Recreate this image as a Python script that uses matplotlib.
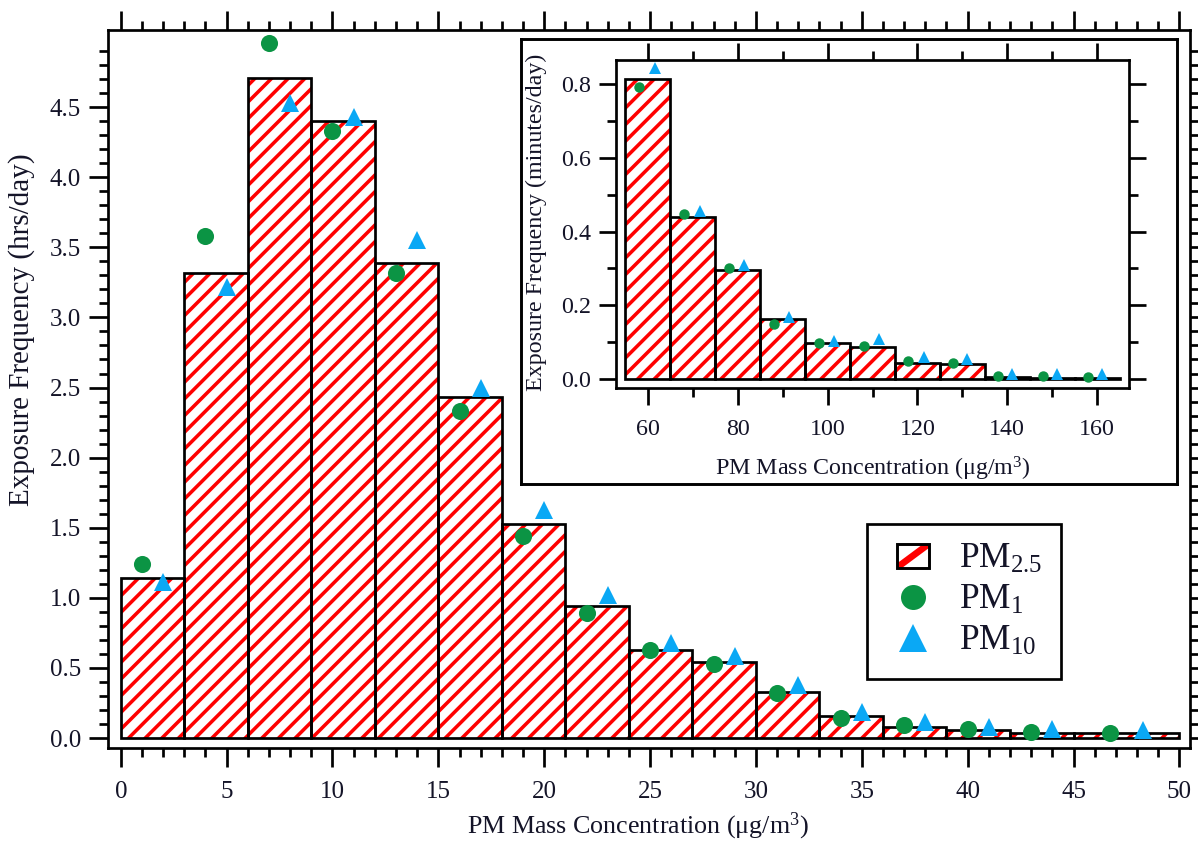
import matplotlib
matplotlib.use("Agg")
import matplotlib.pyplot as plt
import numpy as np
from matplotlib.patches import Patch, Rectangle
from matplotlib.lines import Line2D
from matplotlib.legend_handler import HandlerBase

# --- Global Style Settings ---
plt.rcParams['font.family'] = ['Liberation Serif', 'DejaVu Serif']
plt.rcParams['mathtext.default'] = 'regular'
plt.rcParams['hatch.linewidth'] = 1.7

TEXT_COLOR = '#141428'
RED = '#ff0000'
GREEN = '#0b9444'
BLUE = '#0aa8f5'

# --- Main panel data (hrs/day) ---
pm25_edges = [0, 3, 6, 9, 12, 15, 18, 21, 24, 27, 30, 33, 36, 39, 42, 45, 48, 50]
pm25_hours = [1.14, 3.32, 4.71, 4.40, 3.39, 2.43, 1.53, 0.94, 0.63, 0.54,
              0.33, 0.155, 0.078, 0.055, 0.035, 0.033, 0.033]

pm1_x = [1, 4, 7, 10, 13, 16, 19, 22, 25, 28, 31, 34, 37, 40, 43, 46.7]
pm1_hours = [1.24, 3.58, 4.96, 4.33, 3.32, 2.33, 1.44, 0.89, 0.63, 0.525,
             0.32, 0.145, 0.09, 0.067, 0.045, 0.036]

pm10_x = [2, 5, 8, 11, 14, 17, 20, 23, 26, 29, 32, 35, 38, 41, 44, 48.3]
pm10_hours = [1.11, 3.22, 4.53, 4.43, 3.55, 2.50, 1.63, 1.02, 0.68, 0.583,
              0.376, 0.186, 0.114, 0.076, 0.064, 0.060]

# --- Inset data (minutes/day) ---
inset_edges = [55, 65, 75, 85, 95, 105, 115, 125, 135, 145, 155, 165]
inset_pm25 = [0.815, 0.44, 0.295, 0.162, 0.096, 0.087, 0.0435, 0.040,
              0.005, 0.003, 0.003]

inset_pm1_x = [58, 68, 78, 88, 98, 108, 118, 128, 138, 148, 158]
inset_pm1 = [0.792, 0.448, 0.300, 0.148, 0.096, 0.090, 0.048, 0.042,
             0.007, 0.007, 0.005]

inset_pm10_x = [61.5, 71.5, 81.5, 91.5, 101.5, 111.5, 121.5, 131, 141, 151, 161]
inset_pm10 = [0.843, 0.456, 0.309, 0.168, 0.103, 0.108, 0.058, 0.054,
              0.013, 0.013, 0.012]


def hatched_bars(ax, edges, heights, lw):
    left = np.array(edges[:-1], dtype=float)
    widths = np.diff(edges)
    ax.bar(left, heights, width=widths, align='edge', color='white',
           edgecolor=RED, linewidth=0, hatch='///', zorder=2)
    ax.bar(left, heights, width=widths, align='edge', fill=False,
           edgecolor='black', linewidth=lw, zorder=3)


def style_frame(ax, lw=1.2):
    for sp in ax.spines.values():
        sp.set_linewidth(lw)
        sp.set_color('black')


class HatchSwatch(HandlerBase):
    """Legend key: white box with a single red diagonal stripe."""

    def create_artists(self, legend, orig_handle, xdescent, ydescent,
                       width, height, fontsize, trans):
        x0, y0 = -xdescent, -ydescent
        fill = Rectangle((x0, y0), width, height, facecolor='white',
                         edgecolor='none', transform=trans)
        stripe = Line2D([x0, x0 + width], [y0, y0 + height], color=RED,
                        lw=3.2, solid_capstyle='butt', transform=trans)
        stripe.set_clip_path(fill)
        edge = Rectangle((x0, y0), width, height, fill=False,
                         edgecolor='black', lw=1.4, transform=trans)
        return [fill, stripe, edge]


fig = plt.figure(figsize=(1198 / 150, 843 / 150), dpi=150)

# 1. Main panel
ax = fig.add_axes([0.0902, 0.1127, 0.9031, 0.8517])
hatched_bars(ax, pm25_edges, pm25_hours, 1.3)
ax.plot(pm1_x, pm1_hours, 'o', color=GREEN, markersize=8.2, mec='none', zorder=4)
ax.plot(pm10_x, pm10_hours, '^', color=BLUE, markersize=8.2, mec='none', zorder=4)

ax.set_xlim(-0.6, 50.5)
ax.set_ylim(-0.071, 5.05)
ax.set_xticks(np.arange(0, 51, 5))
ax.set_xticks(np.arange(0, 51, 1), minor=True)
ax.set_yticks(np.arange(0, 4.51, 0.5))
ax.set_yticklabels([f'{v:.1f}' for v in np.arange(0, 4.51, 0.5)])
ax.set_yticks(np.arange(0, 4.95, 0.1), minor=True)
ax.tick_params(which='both', direction='out', top=True, right=True,
               width=1.3, labelsize=12, labelcolor=TEXT_COLOR)
ax.tick_params(which='major', length=9, pad=4)
ax.tick_params(axis='x', which='major', pad=7)
ax.tick_params(which='minor', length=4.5)
style_frame(ax, 1.3)

ax.set_xlabel('PM Mass Concentration (μg/m$^{3}$)', fontsize=12.5, color=TEXT_COLOR)
ax.set_ylabel('Exposure Frequency (hrs/day)', fontsize=14, color=TEXT_COLOR)
ax.xaxis.set_label_coords(0.49, -0.087)
ax.yaxis.set_label_coords(-0.0675, 0.582)

# 2. Legend (frame drawn separately so the keys can sit where they do)
fig.add_artist(Rectangle((867 / 1198, 1 - 679 / 843), 194 / 1198, 155 / 843,
                         transform=fig.transFigure, facecolor='white',
                         edgecolor='black', lw=1.3, zorder=5))
leg_handles = [
    Patch(facecolor='white', edgecolor='black'),
    Line2D([], [], marker='o', ls='none', color=GREEN, mec='none', markersize=12),
    Line2D([], [], marker='^', ls='none', color=BLUE, mec='none', markersize=13),
]
leg_labels = ['PM$_{2.5}$', 'PM$_{1}$', 'PM$_{10}$']
leg = fig.legend(leg_handles, leg_labels, loc='center left',
                 bbox_to_anchor=(897 / 1198, 1 - 600.5 / 843),
                 handler_map={Patch: HatchSwatch()},
                 fontsize=17, frameon=False, handlelength=0.9,
                 handleheight=0.65, handletextpad=0.85, labelspacing=0.22,
                 borderpad=0, borderaxespad=0)
leg.set_zorder(6)
for t in leg.get_texts():
    t.set_color(TEXT_COLOR)

# 3. Inset box and inset panel
box = fig.add_axes([0.4349, 0.4259, 0.5476, 0.5278])
box.set_xticks([])
box.set_yticks([])
box.set_facecolor('white')
style_frame(box, 1.4)

ins = fig.add_axes([0.5142, 0.5397, 0.4282, 0.3891])
hatched_bars(ins, inset_edges, inset_pm25, 1.3)
ins.plot(inset_pm1_x, inset_pm1, 'o', color=GREEN, markersize=5, mec='none', zorder=4)
ins.plot(inset_pm10_x, inset_pm10, '^', color=BLUE, markersize=5.5, mec='none', zorder=4)

ins.set_xlim(52.9, 167.1)
ins.set_ylim(-0.025, 0.866)
ins.set_xticks(np.arange(60, 161, 20))
ins.set_xticks(np.arange(70, 161, 20), minor=True)
ins.set_yticks(np.arange(0, 0.81, 0.2))
ins.set_yticklabels([f'{v:.1f}' for v in np.arange(0, 0.81, 0.2)])
ins.set_yticks(np.arange(0.1, 0.8, 0.2), minor=True)
ins.tick_params(which='both', direction='out', top=True, right=True,
                width=1.3, labelsize=11.5, labelcolor=TEXT_COLOR)
ins.tick_params(which='major', length=8)
ins.tick_params(which='minor', length=4.5)
ins.tick_params(axis='x', which='major', pad=7)
ins.tick_params(axis='y', which='major', pad=4)
style_frame(ins, 1.3)

ins.set_xlabel('PM Mass Concentration (μg/m$^{3}$)', fontsize=11.5, color=TEXT_COLOR)
ins.set_ylabel('Exposure Frequency (minutes/day)', fontsize=11.5, color=TEXT_COLOR)
ins.xaxis.set_label_coords(0.5, -0.205)
ins.yaxis.set_label_coords(-0.1345, 0.506)

fig.savefig('out.png', dpi=150)
